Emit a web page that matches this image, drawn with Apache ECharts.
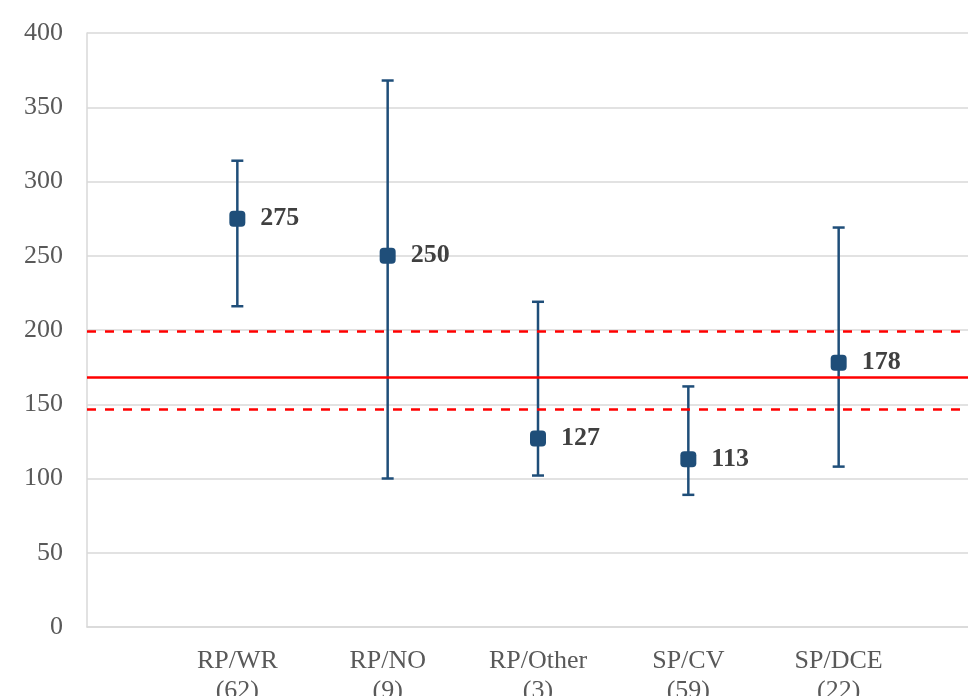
<!DOCTYPE html>
<html>
<head>
<meta charset="utf-8">
<script src="https://cdn.jsdelivr.net/npm/echarts@6/dist/echarts.min.js"></script>
<style>
html,body{margin:0;padding:0;background:#fff;}
#chart{width:968px;height:696px;}
</style>
</head>
<body>
<div id="chart"></div>
<script>
// ---- data ----
var categories = ['RP/WR', 'RP/NO', 'RP/Other', 'SP/CV', 'SP/DCE'];
var counts = [62, 9, 3, 59, 22];
var means = [275, 250, 127, 113, 178];
var lowerBounds = [216, 100, 102, 89, 108];
var upperBounds = [314, 368, 219, 162, 269];
var refMean = [168.4];
var refBand = [199.3, 146.8];
var yTicks = [0, 50, 100, 150, 200, 250, 300, 350, 400];

// ---- build axis categories (empty slots at both ends) ----
var axisCats = [''].concat(categories.map(function (c, i) { return c + '\n(' + counts[i] + ')'; })).concat(['']);
var pointData = means.map(function (v, i) { return [i + 1, v]; });
var errData = categories.map(function (c, i) { return [i + 1, lowerBounds[i], upperBounds[i]]; });

var blue = '#1F4E79';
var serif = '"Liberation Serif", "Times New Roman", serif';

var chart = echarts.init(document.getElementById('chart'), null, {renderer: 'canvas'});
chart.setOption({
  animation: false,
  backgroundColor: '#ffffff',
  grid: {left: 87, top: 33, bottom: 69, right: -21, containLabel: false, outerBoundsMode: 'none'},
  xAxis: {
    type: 'category',
    data: axisCats,
    boundaryGap: false,
    axisLine: {show: true, lineStyle: {color: '#d9d9d9', width: 1.5}},
    axisTick: {show: false},
    splitLine: {show: false},
    axisLabel: {
      interval: 0,
      margin: 19,
      color: '#595959',
      fontFamily: serif,
      fontSize: 26,
      lineHeight: 30
    }
  },
  yAxis: {
    type: 'value',
    min: yTicks[0],
    max: yTicks[yTicks.length - 1],
    interval: 50,
    axisLine: {show: true, lineStyle: {color: '#d9d9d9', width: 1.5}},
    axisTick: {show: false},
    splitLine: {show: true, lineStyle: {color: '#d9d9d9', width: 1.5}},
    axisLabel: {
      margin: 24,
      color: '#595959',
      fontFamily: serif,
      fontSize: 26
    }
  },
  series: [
    {
      type: 'line',
      data: [],
      silent: true,
      markLine: {
        silent: true,
        symbol: ['none', 'none'],
        label: {show: false},
        data: [
          {yAxis: refMean[0], lineStyle: {color: '#ff0000', width: 2.5, type: 'solid'}},
          {yAxis: refBand[0], lineStyle: {color: '#ff0000', width: 2.5, type: [9, 9]}},
          {yAxis: refBand[1], lineStyle: {color: '#ff0000', width: 2.5, type: [9, 9]}}
        ]
      }
    },
    {
      type: 'custom',
      data: errData,
      z: 3,
      renderItem: function (params, api) {
        var x = api.value(0);
        var lo = api.coord([x, api.value(1)]);
        var hi = api.coord([x, api.value(2)]);
        var cap = 6;
        var style = {stroke: blue, lineWidth: 2.5, fill: null};
        return {
          type: 'group',
          children: [
            {type: 'line', shape: {x1: hi[0], y1: hi[1], x2: lo[0], y2: lo[1]}, style: style},
            {type: 'line', shape: {x1: hi[0] - cap, y1: hi[1], x2: hi[0] + cap, y2: hi[1]}, style: style},
            {type: 'line', shape: {x1: lo[0] - cap, y1: lo[1], x2: lo[0] + cap, y2: lo[1]}, style: style}
          ]
        };
      }
    },
    {
      type: 'scatter',
      data: pointData,
      z: 4,
      symbol: 'roundRect',
      symbolSize: 16,
      itemStyle: {color: blue, opacity: 1},
      label: {
        show: true,
        position: 'right',
        distance: 15,
        formatter: function (p) { return p.value[1]; },
        color: '#404040',
        opacity: 1,
        fontFamily: serif,
        fontWeight: 'bold',
        fontSize: 26
      }
    }
  ]
});
</script>
</body>
</html>
